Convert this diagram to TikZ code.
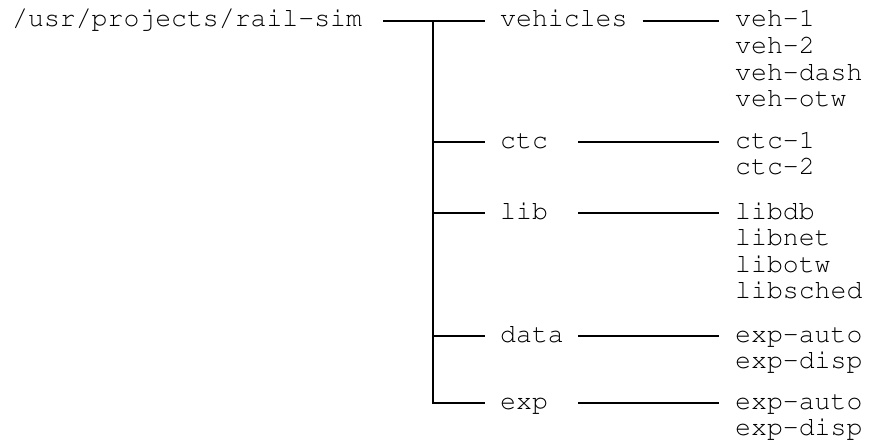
\documentclass[tikz,border=0pt]{standalone}
\usepackage[T1]{fontenc}
\usepackage{courier}
\begin{document}
\begin{tikzpicture}[x=1pt,y=-1pt,
  dir/.style={font=\ttfamily\fontsize{26.5}{26.5}\selectfont, anchor=west,
    inner xsep=16pt, inner ysep=0pt, text height=12pt, text depth=0pt},
  sub/.style={dir, inner xsep=15pt},
  short/.style={sub, text width=63pt},
  tree/.style={line width=2.8pt}]
\useasboundingbox (0,0) rectangle (871,447);
% root and first level
\node[dir, inner xsep=21pt] (root) at (-9,21) {/usr/projects/rail-sim};
\node[sub] (veh) at (485,21) {vehicles};
\node[short] (ctc) at (485,142) {ctc};
\node[short] (lib) at (485,213) {lib};
\node[short] (data) at (485,336) {data};
\node[short] (exp) at (485,403) {exp};
% leaves
\node[dir] (veh1) at (719,21) {veh-1};
\node[dir] (veh2) at (719,47.5) {veh-2};
\node[dir] (vehdash) at (719,74) {veh-dash};
\node[dir] (vehotw) at (719,100.5) {veh-otw};
\node[dir] (ctc1) at (719,142) {ctc-1};
\node[dir] (ctc2) at (719,168.5) {ctc-2};
\node[dir] (libdb) at (719,213) {libdb};
\node[dir] (libnet) at (719,239.5) {libnet};
\node[dir] (libotw) at (719,266) {libotw};
\node[dir] (libsched) at (719,292.5) {libsched};
\node[dir] (dauto) at (719,336) {exp-auto};
\node[dir] (ddisp) at (719,362.5) {exp-disp};
\node[dir] (eauto) at (719,403) {exp-auto};
\node[dir] (edisp) at (719,429.5) {exp-disp};
% trunk
\coordinate (top) at (433,21);
\draw[tree] (root.east) -- (veh.west);
\draw[tree] (top) -- (top |- exp.west) -- (exp.west);
\draw[tree] (top |- ctc.west) -- (ctc.west);
\draw[tree] (top |- lib.west) -- (lib.west);
\draw[tree] (top |- data.west) -- (data.west);
% second level
\draw[tree] (veh.east) -- (veh1.west);
\draw[tree] (ctc.east) -- (ctc1.west);
\draw[tree] (lib.east) -- (libdb.west);
\draw[tree] (data.east) -- (dauto.west);
\draw[tree] (exp.east) -- (eauto.west);
\end{tikzpicture}
\end{document}
